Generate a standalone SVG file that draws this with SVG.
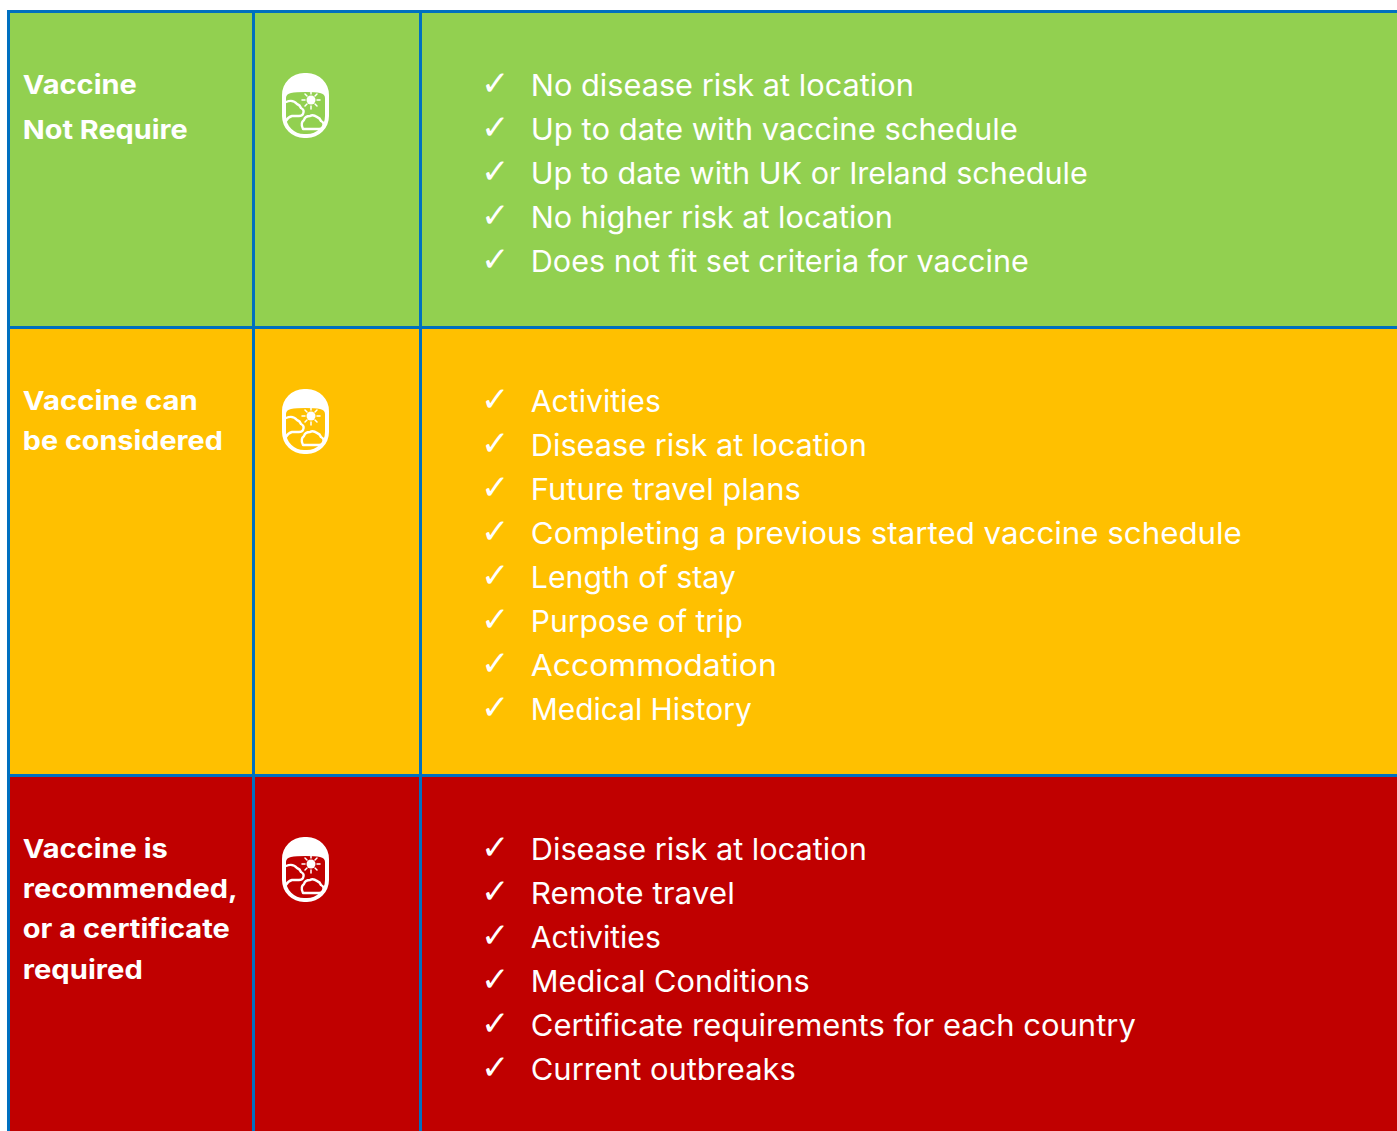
<svg xmlns="http://www.w3.org/2000/svg" xmlns:xlink="http://www.w3.org/1999/xlink" width="1397" height="1131" viewBox="0 0 1397 1131">
<style>
.rule{fill:#0070C0}
.h{font-family:"Inter","Liberation Sans",sans-serif;font-weight:700;font-size:26px;fill:#fff}
.t{font-family:"Inter","Liberation Sans",sans-serif;font-weight:400;font-size:30px;fill:#fff}
.c{font-family:"DejaVu Sans",sans-serif;font-size:34px;fill:#fff}
</style>
<defs>
<symbol id="win" overflow="visible">
<path fill="#fff" fill-rule="evenodd" d="M22 0H25A22 22 0 0 1 47 22V43A22 22 0 0 1 25 65H22A22 22 0 0 1 0 43V22A22 22 0 0 1 22 0ZM23.500 19Q33 19 38 20Q43 21 43 25V43A18 18 0 0 1 25 61H22A18 18 0 0 1 4 43V25Q4 21 9 20Q14 19 23.500 19Z"/>
<rect x="16" y="10.500" width="15" height="3" rx="1.500" fill="#fff"/>
<g fill="none" stroke="#fff" stroke-width="2.400" stroke-linecap="round" stroke-linejoin="round">
<path d="M4 29Q11 26 15 31Q18 32 19 35Q23 37 21 41Q20 43 17 43H10Q6 44 4 48"/>
<path d="M21 56Q18 50 22 47Q23 43 28 43Q31 41 35 44Q38 45 39 48Q43 50 41 54Q40 56 37 56Z"/>
<path d="M29 18V21M29 33V36M20 27H23M35 27H38M23 21L25 23M33 31L35 33M35 21L33 23M25 31L23 33" stroke-width="1.500"/>
</g>
<circle cx="29" cy="27" r="4.500" fill="#fff"/>
</symbol>
</defs>
<g id="row-green">
<rect x="8" y="11" width="1389" height="317" fill="#92D050"/>
</g>
<g id="row-amber">
<rect x="8" y="328" width="1389" height="448" fill="#FFC000"/>
</g>
<g id="row-red">
<rect x="8" y="776" width="1389" height="355" fill="#C00000"/>
</g>
<g id="grid">
<rect class="rule" x="7" y="10" width="1390" height="3"/>
<rect class="rule" x="7" y="326" width="1390" height="3"/>
<rect class="rule" x="7" y="774" width="1390" height="3"/>
<rect class="rule" x="7" y="10" width="3" height="1121"/>
<rect class="rule" x="252" y="10" width="3" height="1121"/>
<rect class="rule" x="419" y="10" width="3" height="1121"/>
</g>
<g id="icon-1"><use href="#win" x="282" y="73"/></g>
<g id="icon-2"><use href="#win" x="282" y="389"/></g>
<g id="icon-3"><use href="#win" x="282" y="837"/></g>
<g id="heading-1">
<text class="h" x="22.800" y="94" textLength="114" lengthAdjust="spacingAndGlyphs">Vaccine</text>
<text class="h" x="22.800" y="139" textLength="165" lengthAdjust="spacingAndGlyphs">Not Require</text>
</g>
<g id="heading-2">
<text class="h" x="22.800" y="410" textLength="175" lengthAdjust="spacingAndGlyphs">Vaccine can</text>
<text class="h" x="22.800" y="450" textLength="200" lengthAdjust="spacingAndGlyphs">be considered</text>
</g>
<g id="heading-3">
<text class="h" x="22.800" y="858" textLength="145" lengthAdjust="spacingAndGlyphs">Vaccine is</text>
<text class="h" x="22.800" y="898" textLength="215" lengthAdjust="spacingAndGlyphs">recommended,</text>
<text class="h" x="22.800" y="938" textLength="207" lengthAdjust="spacingAndGlyphs">or a certificate</text>
<text class="h" x="22.800" y="979" textLength="120" lengthAdjust="spacingAndGlyphs">required</text>
</g>
<g id="list-1">
<text class="c" x="481" y="95">✓</text><text class="t" x="530.800" y="96" textLength="383" lengthAdjust="spacingAndGlyphs">No disease risk at location</text>
<text class="c" x="481" y="139">✓</text><text class="t" x="530.800" y="140" textLength="487" lengthAdjust="spacingAndGlyphs">Up to date with vaccine schedule</text>
<text class="c" x="481" y="183">✓</text><text class="t" x="530.800" y="184" textLength="557" lengthAdjust="spacingAndGlyphs">Up to date with UK or Ireland schedule</text>
<text class="c" x="481" y="227">✓</text><text class="t" x="530.800" y="228" textLength="362" lengthAdjust="spacingAndGlyphs">No higher risk at location</text>
<text class="c" x="481" y="271">✓</text><text class="t" x="530.800" y="272" textLength="498" lengthAdjust="spacingAndGlyphs">Does not fit set criteria for vaccine</text>
</g>
<g id="list-2">
<text class="c" x="481" y="411">✓</text><text class="t" x="530.800" y="412" textLength="130" lengthAdjust="spacingAndGlyphs">Activities</text>
<text class="c" x="481" y="455">✓</text><text class="t" x="530.800" y="456" textLength="336" lengthAdjust="spacingAndGlyphs">Disease risk at location</text>
<text class="c" x="481" y="499">✓</text><text class="t" x="530.800" y="500" textLength="270" lengthAdjust="spacingAndGlyphs">Future travel plans</text>
<text class="c" x="481" y="543">✓</text><text class="t" x="530.800" y="544" textLength="711" lengthAdjust="spacingAndGlyphs">Completing a previous started vaccine schedule</text>
<text class="c" x="481" y="587">✓</text><text class="t" x="530.800" y="588" textLength="205" lengthAdjust="spacingAndGlyphs">Length of stay</text>
<text class="c" x="481" y="631">✓</text><text class="t" x="530.800" y="632" textLength="212" lengthAdjust="spacingAndGlyphs">Purpose of trip</text>
<text class="c" x="481" y="675">✓</text><text class="t" x="530.800" y="676" textLength="246" lengthAdjust="spacingAndGlyphs">Accommodation</text>
<text class="c" x="481" y="719">✓</text><text class="t" x="530.800" y="720" textLength="221" lengthAdjust="spacingAndGlyphs">Medical History</text>
</g>
<g id="list-3">
<text class="c" x="481" y="859">✓</text><text class="t" x="530.800" y="860" textLength="336" lengthAdjust="spacingAndGlyphs">Disease risk at location</text>
<text class="c" x="481" y="903">✓</text><text class="t" x="530.800" y="904" textLength="204" lengthAdjust="spacingAndGlyphs">Remote travel</text>
<text class="c" x="481" y="947">✓</text><text class="t" x="530.800" y="948" textLength="130" lengthAdjust="spacingAndGlyphs">Activities</text>
<text class="c" x="481" y="991">✓</text><text class="t" x="530.800" y="992" textLength="279" lengthAdjust="spacingAndGlyphs">Medical Conditions</text>
<text class="c" x="481" y="1035">✓</text><text class="t" x="530.800" y="1036" textLength="605" lengthAdjust="spacingAndGlyphs">Certificate requirements for each country</text>
<text class="c" x="481" y="1079">✓</text><text class="t" x="530.800" y="1080" textLength="265" lengthAdjust="spacingAndGlyphs">Current outbreaks</text>
</g>
</svg>
